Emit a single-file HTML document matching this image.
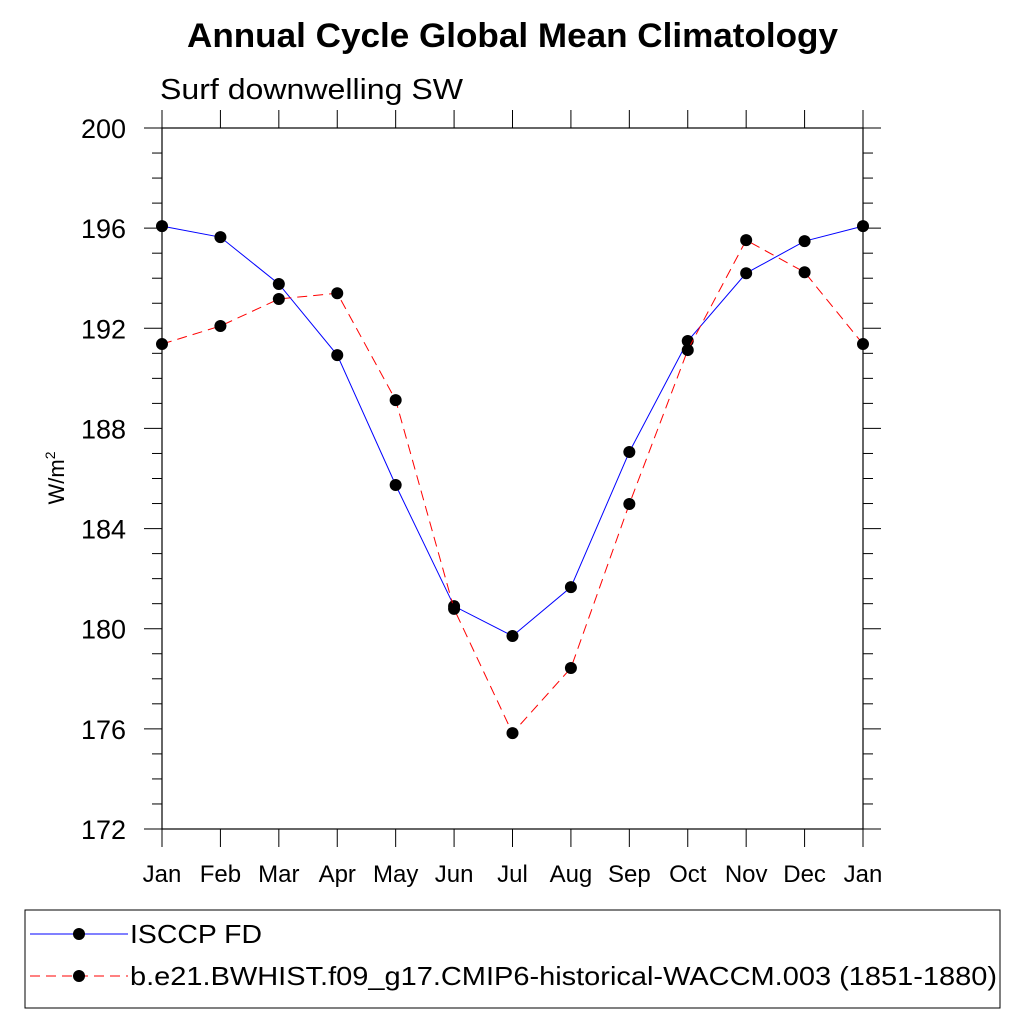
<!DOCTYPE html>
<html><head><meta charset="utf-8"><style>
body{margin:0;background:#fff;}
svg text{font-family:"Liberation Sans",sans-serif;}
</style></head><body>
<svg id="chart" width="1024" height="1024" viewBox="0 0 1024 1024">
<text x="187" y="47" font-size="34" font-weight="bold" textLength="651" lengthAdjust="spacingAndGlyphs">Annual Cycle Global Mean Climatology</text>
<text x="160" y="99" font-size="29" textLength="303" lengthAdjust="spacingAndGlyphs">Surf downwelling SW</text>
<text transform="translate(64,478) rotate(-90)" text-anchor="middle" font-size="22">W/m<tspan dy="-9" font-size="14">2</tspan></text>
<g id="axes"></g>
<g id="series"></g>
<g>
<rect x="25" y="910" width="975" height="98" fill="none" stroke="#000" stroke-width="1"/>
<line x1="30" y1="934" x2="128" y2="934" stroke="#00f" stroke-width="1"/>
<circle cx="79" cy="934" r="6" fill="#000"/>
<text x="130" y="943" font-size="26" textLength="132" lengthAdjust="spacingAndGlyphs">ISCCP FD</text>
<line x1="30" y1="976" x2="128" y2="976" stroke="#f00" stroke-width="1" stroke-dasharray="10,6"/>
<circle cx="79" cy="976" r="6" fill="#000"/>
<text x="130" y="985" font-size="26" textLength="867" lengthAdjust="spacingAndGlyphs">b.e21.BWHIST.f09_g17.CMIP6-historical-WACCM.003 (1851-1880)</text>
</g>
</svg>
<script>
const months = ["Jan","Feb","Mar","Apr","May","Jun","Jul","Aug","Sep","Oct","Nov","Dec","Jan"];
const isccp = [196.08,195.64,193.77,190.93,185.74,180.9,179.71,181.66,187.06,191.49,194.2,195.48,196.08];
const model = [191.37,192.09,193.17,193.4,189.13,180.79,175.83,178.43,184.98,191.13,195.52,194.24,191.37];
const yTicks = [172,176,180,184,188,192,196,200];

const NS="http://www.w3.org/2000/svg";
const X0=162,X1=863,Y0=829,Y1=128,YMIN=172,YMAX=200;
const xs=i=>X0+(X1-X0)*i/(months.length-1);
const ys=v=>Y0-(v-YMIN)/(YMAX-YMIN)*(Y0-Y1);
function mk(tag,attrs,parent){const e=document.createElementNS(NS,tag);for(const k in attrs)e.setAttribute(k,attrs[k]);parent.appendChild(e);return e;}
const axes=document.getElementById('axes');
let fr=mk('rect',{x:X0,y:Y1,width:X1-X0,height:Y0-Y1,fill:'none',stroke:'#000','stroke-width':1.2},axes);


for(let v=YMIN;v<=YMAX;v++){
  const major=(v-YMIN)%4===0, len=major?18:10, y=ys(v);
  let t=mk('line',{x1:X0-len,y1:y,x2:X0,y2:y,stroke:'#000','stroke-width':1},axes);
  
  
  let t2=mk('line',{x1:X1,y1:y,x2:X1+len,y2:y,stroke:'#000','stroke-width':1},axes);
  
  
}
yTicks.forEach(v=>{
  let l=mk('text',{x:126,y:ys(v)+10,'text-anchor':'end','font-size':27},axes);
  l.textContent=v;
  
  
});
months.forEach((m,i)=>{
  const x=xs(i);
  let b=mk('line',{x1:x,y1:Y0,x2:x,y2:Y0+18,stroke:'#000','stroke-width':1},axes);
  
  
  let tp=mk('line',{x1:x,y1:Y1-18,x2:x,y2:Y1,stroke:'#000','stroke-width':1},axes);
  
  
  let l=mk('text',{x:x,y:882,'text-anchor':'middle','font-size':24},axes);
  l.textContent=m;
  
  
});
const sg=document.getElementById('series');
function drawSeries(vals,color,dash,name){
  const pts=vals.map((v,i)=>xs(i)+','+ys(v)).join(' ');
  let pl=mk('polyline',{points:pts,fill:'none',stroke:color,'stroke-width':1,'stroke-dasharray':dash},sg);
  
  
  vals.forEach((v,i)=>{
    let c=mk('circle',{cx:xs(i),cy:ys(v),r:6,fill:'#000'},sg);
    
    
  });
}
drawSeries(isccp,'#00f','none','isccp');
drawSeries(model,'#f00','10,6','model');
</script>
</body></html>
